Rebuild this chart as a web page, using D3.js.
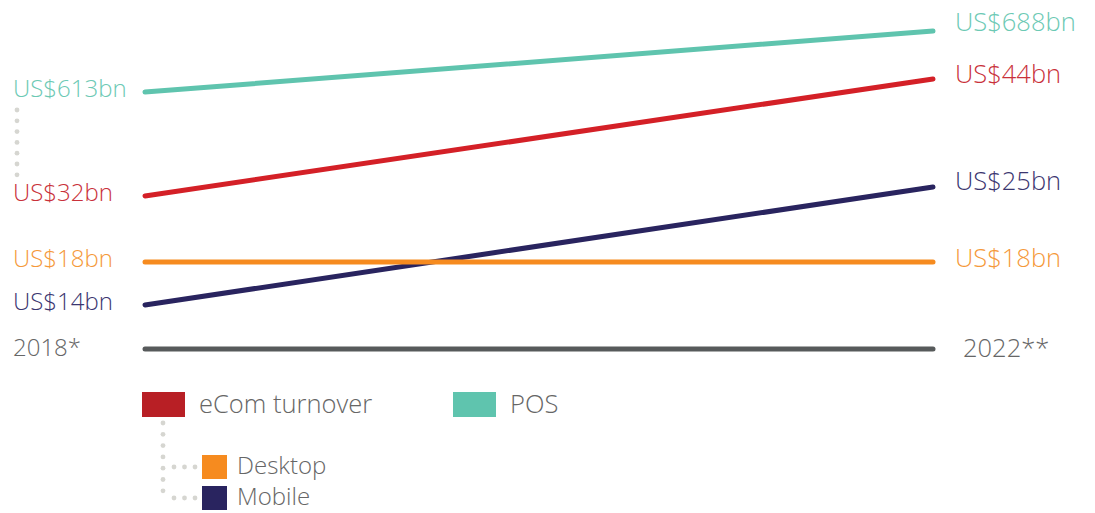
<!DOCTYPE html>
<html><head><meta charset="utf-8">
<script src="https://cdn.jsdelivr.net/npm/d3@7"></script>
<style>
html,body{margin:0;padding:0;background:#fff;}
text{font-family:"Open Sans",sans-serif;font-weight:300;}
</style></head>
<body><svg id="c" width="1095" height="513"></svg>
<script>
const years = ["2018*", "2022**"];
const seriesNames = ["POS", "eCom turnover", "Mobile", "Desktop"];
const posValues = [613, 688];
const ecomValues = [32, 44];
const mobileValues = [14, 25];
const desktopValues = [18, 18];
const legendTop = ["eCom turnover", "POS"];
const legendSub = ["Desktop", "Mobile"];

const svg = d3.select("#c");
const x = d3.scalePoint().domain(years).range([145, 933]);

// broken (non-common) scales, one per series, as in the original slope chart
const yScales = {
  "POS": d3.scaleLinear().domain([613, 688]).range([92, 31]),
  "eCom turnover": d3.scaleLinear().domain([32, 44]).range([196, 79]),
  "Mobile": d3.scaleLinear().domain([14, 25]).range([305, 187]),
  "Desktop": d3.scaleLinear().domain([17, 19]).range([272, 252])
};
const valuesBy = {"POS": posValues, "eCom turnover": ecomValues, "Mobile": mobileValues, "Desktop": desktopValues};
const lineColor = {"POS": "#5fc4ae", "eCom turnover": "#d42027", "Mobile": "#29245f", "Desktop": "#f68b1f"};
const labelColor = {"POS": "#6cc9b4", "eCom turnover": "#c9313a", "Mobile": "#3b3670", "Desktop": "#f5993a"};
const rightDy = {"POS": 0, "eCom turnover": 4, "Mobile": 3, "Desktop": 5};

// dotted connector between POS and eCom labels on the left
const dotsLeft = d3.range(110, 178, 10.8);
svg.selectAll("circle.dl").data(dotsLeft).join("circle")
  .attr("cx", 17).attr("cy", d => d).attr("r", 2.4).attr("fill", "#d6d6d1");

// baseline (year axis)
svg.append("line").attr("x1", x(years[0])).attr("x2", x(years[1]))
  .attr("y1", 349).attr("y2", 349).attr("stroke", "#575a5b")
  .attr("stroke-width", 5).attr("stroke-linecap", "round");
svg.append("text").attr("x", 13).attr("y", 356).attr("font-size", 24).attr("fill", "#666")
  .text(years[0]);
svg.append("text").attr("x", 963).attr("y", 357).attr("font-size", 25.5).attr("fill", "#666")
  .text(years[1]);

const line = d3.line();
seriesNames.forEach(name => {
  const ys = yScales[name];
  const vals = valuesBy[name];
  const pts = vals.map((v, i) => [x(years[i]), ys(v)]);
  svg.append("path").attr("d", line(pts)).attr("fill", "none")
    .attr("stroke", lineColor[name]).attr("stroke-width", 5).attr("stroke-linecap", "round");
  svg.append("text").attr("x", 13).attr("y", ys(vals[0]) + 5)
    .attr("font-size", 24).attr("fill", labelColor[name])
    .text("US$" + vals[0] + "bn");
  svg.append("text").attr("x", 955).attr("y", ys(vals[1]) + rightDy[name])
    .attr("font-size", 25.5).attr("fill", labelColor[name])
    .text("US$" + vals[1] + "bn");
});

// legend
const legColor = {"eCom turnover": "#b81f25", "POS": "#5fc4ae", "Desktop": "#f68b1f", "Mobile": "#29245f"};
const topX = d3.scalePoint().domain(legendTop).range([142, 453]);
legendTop.forEach(n => {
  svg.append("rect").attr("x", topX(n)).attr("y", 392).attr("width", 43).attr("height", 25).attr("fill", legColor[n]);
  svg.append("text").attr("x", topX(n) + 57).attr("y", 413).attr("font-size", 25.5).attr("fill", "#666").text(n);
});
const subY = d3.scalePoint().domain(legendSub).range([455, 486]);
// dotted tree
const vdots = d3.range(423, 500, 11.3);
svg.selectAll("circle.vd").data(vdots).join("circle")
  .attr("cx", 163).attr("cy", d => d).attr("r", 2.4).attr("fill", "#d6d6d1");
legendSub.forEach(n => {
  const yy = subY(n);
  d3.range(174, 198, 10.5).forEach(cx => {
    svg.append("circle").attr("cx", cx).attr("cy", yy + 12).attr("r", 2.4).attr("fill", "#d6d6d1");
  });
  svg.append("rect").attr("x", 202).attr("y", yy).attr("width", 25).attr("height", 24).attr("fill", legColor[n]);
  svg.append("text").attr("x", 237).attr("y", yy + 19).attr("font-size", 24).attr("fill", "#666").text(n);
});
</script></body></html>
